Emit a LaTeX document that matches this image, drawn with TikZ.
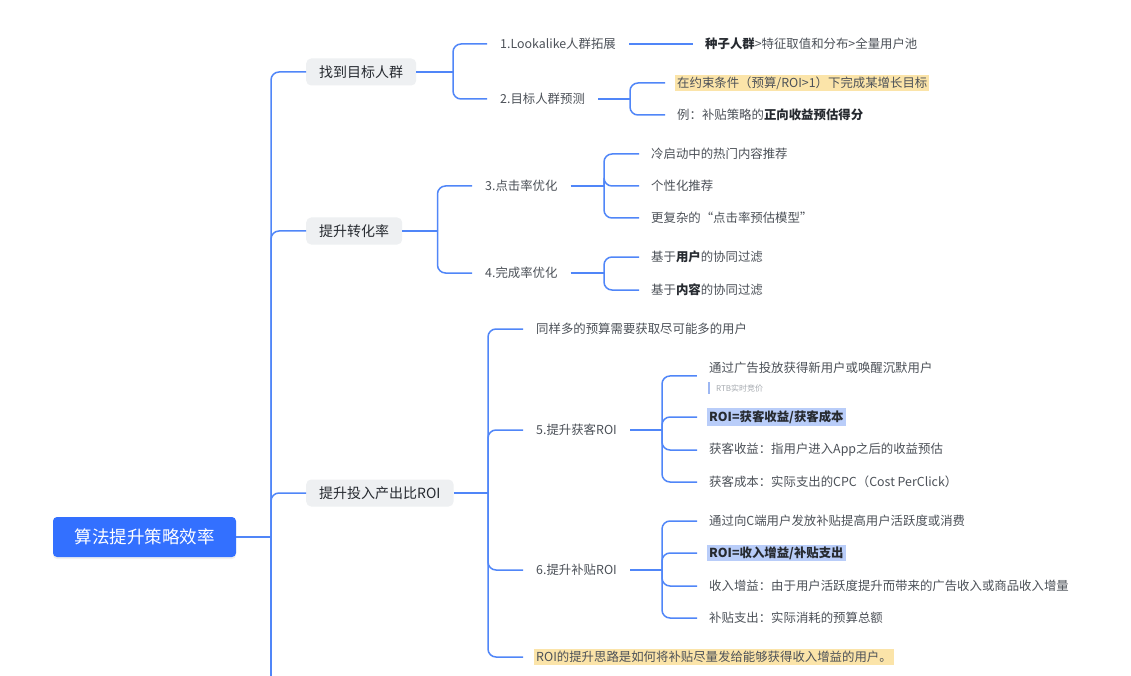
\documentclass[tikz,border=0pt]{standalone}
\usepackage{fontspec}
\setmainfont{Noto Sans CJK SC}
\usetikzlibrary{fit,shadows}
\definecolor{linec}{HTML}{5086F8}
\definecolor{rootc}{HTML}{3370FF}
\definecolor{lonebg}{HTML}{EEF0F2}
\definecolor{txtdark}{HTML}{262A30}
\definecolor{txtmid}{HTML}{4C5158}
\definecolor{hlyellow}{HTML}{FBE4A9}
\definecolor{hlblue}{HTML}{B9CDF9}
\definecolor{notec}{HTML}{A6AAB0}
\definecolor{barc}{HTML}{9DB7F2}
\newcommand\hb[1]{\textbf{\color{txtdark}#1}}
\begin{document}
\begin{tikzpicture}[x=1pt,y=-1pt,
  conn/.style={draw=linec, line width=1.5pt, rounded corners=8pt},
  rootbox/.style={fill=rootc, text=white, rounded corners=4pt, minimum width=183pt, minimum height=40pt, inner sep=0pt,
    font=\fontsize{17.5pt}{20pt}\selectfont, drop shadow={opacity=0.12, shadow xshift=0pt, shadow yshift=-2pt}},
  lone/.style={fill=lonebg, text=txtdark, rounded corners=5pt, minimum height=27pt, inner xsep=13pt, inner ysep=0pt,
    anchor=west, font=\fontsize{14pt}{16pt}\selectfont},
  ltwo/.style={text=txtmid, inner xsep=2pt, inner ysep=2pt, anchor=west, font=\fontsize{12.4pt}{14pt}\selectfont},
  hly/.style={fill=hlyellow},
  hlb/.style={fill=hlblue, text=txtdark},
  note/.style={text=notec, inner sep=0pt, anchor=west, font=\fontsize{8pt}{9pt}\selectfont},
  tolevel/.style={conn, shorten >=11pt},
  toleaf/.style={conn, shorten >=10pt},
  fromtext/.style={conn, shorten <=11pt},
]
\useasboundingbox (0,0) rectangle (1131,676);
\fill[white] (0,0) rectangle (1131,676);

% root
\node[rootbox] (root) at (144.5,537) {算法提升策略效率};

% level 1
\node[lone] (n1) at (306,72) {找到目标人群};
\node[lone] (n2) at (306,231) {提升转化率};
\node[lone] (n3) at (306,493) {提升投入产出比ROI};

% level 2
\node[ltwo] (a1) at (498,44) {1.Lookalike人群拓展};
\node[ltwo] (a2) at (498,99) {2.目标人群预测};
\node[ltwo] (b1) at (483,186) {3.点击率优化};
\node[ltwo] (b2) at (483,273) {4.完成率优化};
\node[ltwo] (c1) at (534,329) {同样多的预算需要获取尽可能多的用户};
\node[ltwo] (c2) at (534,430) {5.提升获客ROI};
\node[ltwo] (c3) at (534,570) {6.提升补贴ROI};
\node[ltwo,hly] (c4) at (534,657) {ROI的提升思路是如何将补贴尽量发给能够获得收入增益的用户。};

% leaves
\node[ltwo] (d1) at (703,44) {\hb{种子人群}>特征取值和分布>全量用户池};
\node[ltwo,hly] (d2) at (675,83) {在约束条件（预算/ROI>1）下完成某增长目标};
\node[ltwo] (d3) at (675,115) {例：补贴策略的\hb{正向收益预估得分}};
\node[ltwo] (e1) at (649,154) {冷启动中的热门内容推荐};
\node[ltwo] (e2) at (649,186) {个性化推荐};
\node[ltwo] (e3) at (649,218) {更复杂的“点击率预估模型”};
\node[ltwo] (f1) at (649,257) {基于\hb{用户}的协同过滤};
\node[ltwo] (f2) at (649,290) {基于\hb{内容}的协同过滤};
\node[ltwo] (g1) at (707,368) {通过广告投放获得新用户或唤醒沉默用户};
\node[note] (g1n) at (716,388) {RTB实时竞价};
\draw[barc, line width=1.5pt] (709,382) -- (709,394);
\node[fit=(g1)(g1n), inner sep=0pt] (g1grp) {};
\node[ltwo,hlb] (g2) at (707,417) {\textbf{ROI=获客收益/获客成本}};
\node[ltwo] (g3) at (707,450) {获客收益：指用户进入App之后的收益预估};
\node[ltwo] (g4) at (707,482) {获客成本：实际支出的CPC（Cost PerClick）};
\node[ltwo] (h1) at (707,521) {通过向C端用户发放补贴提高用户活跃度或消费};
\node[ltwo,hlb] (h2) at (707,553) {\textbf{ROI=收入增益/补贴支出}};
\node[ltwo] (h3) at (707,586) {收入增益：由于用户活跃度提升而带来的广告收入或商品收入增量};
\node[ltwo] (h4) at (707,618) {补贴支出：实际消耗的预算总额};

% junction coordinates
\coordinate (jr) at (271,537);
\coordinate (trunkend) at (271,680);
\coordinate (j1) at (453,72);
\coordinate (j2) at (437.5,231);
\coordinate (j3) at (488,493);
\coordinate (ja2) at (630,99);
\coordinate (jb1) at (604,186);
\coordinate (jb2) at (604,273);
\coordinate (jc2) at (662,430);
\coordinate (jc3) at (662,570);

% trunk
\draw[conn] (root.east) -- (jr);
\draw[conn] (jr) -- (trunkend);
\draw[conn] (jr) |- (n1.west);
\draw[conn] (jr) |- (n2.west);
\draw[conn] (jr) |- (n3.west);

% level 1 -> level 2
\draw[conn] (n1.east) -- (j1);
\draw[tolevel] (j1) |- (a1.west);
\draw[tolevel] (j1) |- (a2.west);
\draw[conn] (n2.east) -- (j2);
\draw[tolevel] (j2) |- (b1.west);
\draw[tolevel] (j2) |- (b2.west);
\draw[conn] (n3.east) -- (j3);
\draw[tolevel] (j3) |- (c1.west);
\draw[tolevel] (j3) |- (c2.west);
\draw[tolevel] (j3) |- (c3.west);
\draw[tolevel] (j3) |- (c4.west);

% level 2 -> leaves
\draw[conn, shorten <=11pt, shorten >=10pt] (a1.east) -- (d1.west);
\draw[fromtext] (a2.east) -- (ja2);
\draw[toleaf] (ja2) |- (d2.west);
\draw[toleaf] (ja2) |- (d3.west);
\draw[fromtext] (b1.east) -- (jb1);
\draw[toleaf] (jb1) |- (e1.west);
\draw[toleaf] (jb1) |- (e2.west);
\draw[toleaf] (jb1) |- (e3.west);
\draw[fromtext] (b2.east) -- (jb2);
\draw[toleaf] (jb2) |- (f1.west);
\draw[toleaf] (jb2) |- (f2.west);
\draw[fromtext] (c2.east) -- (jc2);
\draw[toleaf] (jc2) |- (g1grp.west);
\draw[toleaf] (jc2) |- (g2.west);
\draw[toleaf] (jc2) |- (g3.west);
\draw[toleaf] (jc2) |- (g4.west);
\draw[fromtext] (c3.east) -- (jc3);
\draw[toleaf] (jc3) |- (h1.west);
\draw[toleaf] (jc3) |- (h2.west);
\draw[toleaf] (jc3) |- (h3.west);
\draw[toleaf] (jc3) |- (h4.west);
\end{tikzpicture}
\end{document}
